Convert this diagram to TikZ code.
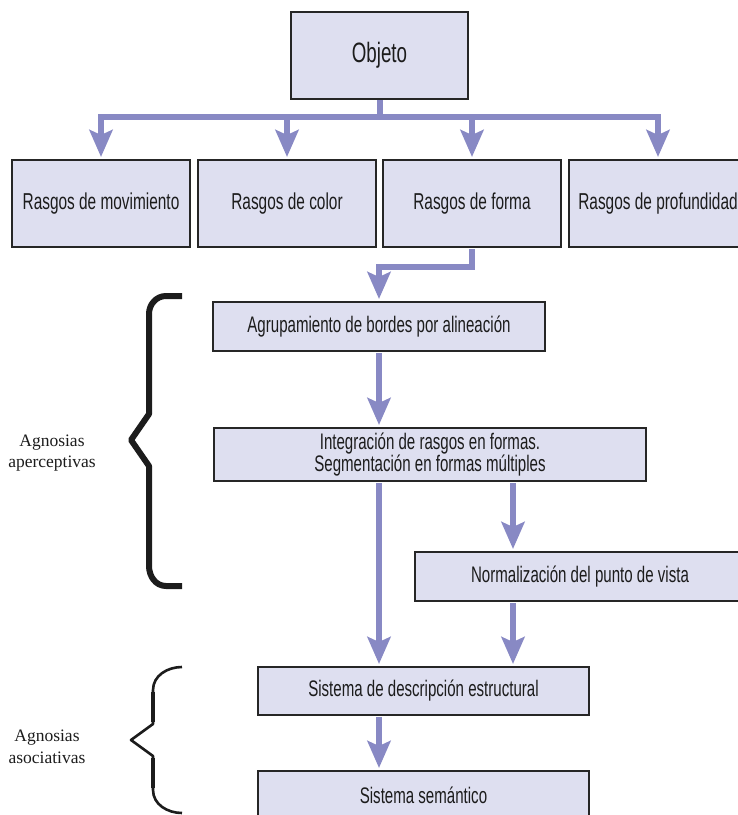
\documentclass[tikz,border=0pt]{standalone}
\usepackage{fontspec}
\setmainfont{Liberation Serif}
\newfontfamily\condfont[FakeStretch=0.67]{Liberation Sans}
\usetikzlibrary{arrows.meta}
\definecolor{boxfill}{RGB}{222,223,240}
\definecolor{boxline}{RGB}{38,38,38}
\definecolor{flowc}{RGB}{136,137,196}
\definecolor{inkc}{RGB}{28,28,28}

\begin{document}
\begin{tikzpicture}[x=1pt,y=-1pt,
  box/.style={draw=boxline, line width=2pt, fill=boxfill, inner sep=0pt,
    font=\condfont\fontsize{22.5}{22}\selectfont, text=inkc, align=center},
  rasgo/.style={box, minimum width=178pt, minimum height=87pt,
    font=\condfont\fontsize{23}{24}\selectfont},
  flow/.style={draw=flowc, line width=6pt,
    -{Stealth[length=27pt,width=23pt,inset=5pt]}, shorten >=2pt, shorten <=1pt},
  busline/.style={draw=flowc, line width=6pt},
  bigbrace/.style={draw=inkc, line width=6pt, line join=round},
  smallbrace/.style={draw=inkc, line width=2.6pt, line join=round},
  lbl/.style={font=\fontsize{17.5}{21.5}\selectfont, align=center, text=inkc, inner sep=0pt}]

\useasboundingbox (0,0) rectangle (738,815);
\clip (0,0) rectangle (738,815);

% boxes
\node[box, minimum width=177pt, minimum height=87pt,
      font=\condfont\fontsize{28}{28}\selectfont] (obj) at (379.5,55.5) {Objeto};
\node[rasgo] (r1) at (101,203.5) {Rasgos de movimiento};
\node[rasgo] (r2) at (287,203.5) {Rasgos de color};
\node[rasgo] (r3) at (472,203.5) {Rasgos de forma};
\node[rasgo] (r4) at (658,203.5) {Rasgos de profundidad};
\node[box, minimum width=332pt, minimum height=49pt] (agr) at (379,326.5) {Agrupamiento de bordes por alineación};
\node[box, minimum width=432pt, minimum height=53pt] (integ) at (430,454.5)
  {Integración de rasgos en formas.\\Segmentación en formas múltiples};
\node[box, minimum width=330pt, minimum height=49pt] (norm) at (580,576.5) {Normalización del punto de vista};
\node[box, minimum width=331pt, minimum height=48pt] (sdesc) at (423.5,691) {Sistema de descripción estructural};
\node[box, minimum width=331pt, minimum height=48pt] (ssem) at (423.5,795) {Sistema semántico};

% distribution bus below the object box
\coordinate (bus) at (379.5,117);
\coordinate (rx) at (513,0);
\draw[busline] (obj.south) -- (obj.south |- bus);
\foreach \r in {r1,r2,r3,r4}
  \draw[flow, shorten <=0pt] (obj.south |- bus) -| (\r.north);

% processing chain
\draw[flow] (r3.south) -- ++(0,19) -| (agr.north);
\draw[flow] (agr.south) -- (agr.south |- integ.north);
\draw[flow] (agr.south |- integ.south) -- (agr.south |- sdesc.north);
\draw[flow] (rx |- integ.south) -- (rx |- norm.north);
\draw[flow] (rx |- norm.south) -- (rx |- sdesc.north);
\draw[flow] (agr.south |- sdesc.south) -- (agr.south |- ssem.north);

% braces
\draw[bigbrace] (182,296) -- (166,296) to[out=180,in=90] (149,314) -- (149,414)
  -- (131,440) -- (149,466) -- (149,566) to[out=-90,in=180] (166,586) -- (182,586);
\draw[smallbrace] (182,667) to[out=180,in=90] (153,690) -- (153,724)
  -- (131,740) -- (153,756) -- (153,790) to[out=-90,in=180] (182,813);
\draw[draw=inkc, line width=3.8pt] (153,692) -- (153,722) (153,758) -- (153,788);

% labels
\node[lbl] (aper) at (52,453) {Agnosias\\aperceptivas};
\node[lbl] (asoc) at (47,747) {Agnosias\\asociativas};
\end{tikzpicture}
\end{document}
